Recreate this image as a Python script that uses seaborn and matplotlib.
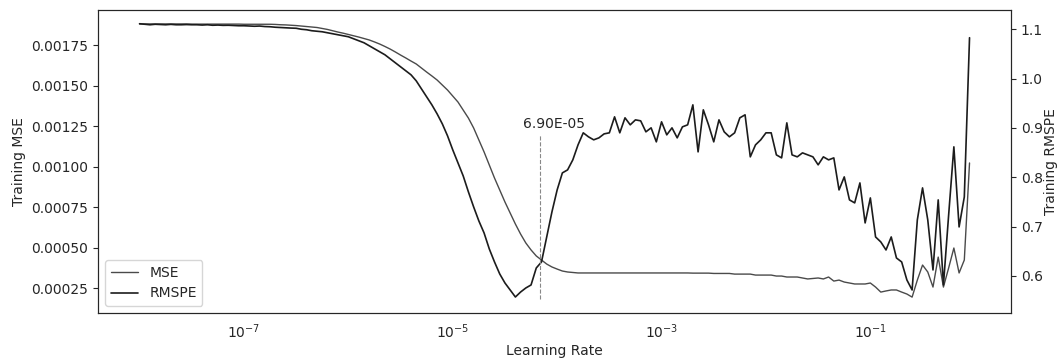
import matplotlib
matplotlib.use("Agg")
import matplotlib.pyplot as plt
from matplotlib.ticker import NullLocator
import seaborn as sns

# learning-rate sweep: one epoch per step, lr = 1e-8 * 10**(epoch/20)
epochs = list(range(160))
lr = [1e-8 * 10 ** (e / 20) for e in epochs]

mse = [
    0.001880, 0.001880, 0.001880, 0.001880, 0.001880, 0.001880, 0.001880, 0.001880, 0.001880, 0.001880,
    0.001879, 0.001879, 0.001879, 0.001879, 0.001879, 0.001879, 0.001879, 0.001879, 0.001879, 0.001879,
    0.001878, 0.001878, 0.001878, 0.001878, 0.001878, 0.001878, 0.001877, 0.001875, 0.001874, 0.001872,
    0.001870, 0.001867, 0.001864, 0.001861, 0.001858, 0.001852, 0.001846, 0.001838, 0.001830, 0.001823,
    0.001815, 0.001807, 0.001799, 0.001790, 0.001781, 0.001769, 0.001756, 0.001741, 0.001725, 0.001707,
    0.001688, 0.001670, 0.001651, 0.001633, 0.001608, 0.001583, 0.001559, 0.001534, 0.001503, 0.001472,
    0.001435, 0.001398, 0.001349, 0.001299, 0.001238, 0.001164, 0.001090, 0.001009, 0.000929, 0.000855,
    0.000781, 0.000713, 0.000645, 0.000583, 0.000528, 0.000485, 0.000448, 0.000423, 0.000398, 0.000380,
    0.000367, 0.000355, 0.000349, 0.000346, 0.000343, 0.000343, 0.000343, 0.000343, 0.000343, 0.000343,
    0.000343, 0.000343, 0.000343, 0.000343, 0.000343, 0.000343, 0.000343, 0.000343, 0.000343, 0.000343,
    0.000343, 0.000343, 0.000343, 0.000343, 0.000343, 0.000343, 0.000342, 0.000342, 0.000342, 0.000342,
    0.000340, 0.000340, 0.000340, 0.000340, 0.000336, 0.000336, 0.000336, 0.000336, 0.000330, 0.000330,
    0.000330, 0.000330, 0.000324, 0.000324, 0.000318, 0.000318, 0.000318, 0.000312, 0.000306, 0.000309,
    0.000312, 0.000306, 0.000318, 0.000293, 0.000299, 0.000287, 0.000281, 0.000275, 0.000275, 0.000275,
    0.000281, 0.000256, 0.000225, 0.000232, 0.000238, 0.000238, 0.000225, 0.000213, 0.000194, 0.000299,
    0.000392, 0.000349, 0.000256, 0.000441, 0.000256, 0.000374, 0.000497, 0.000343, 0.000423, 0.001022,
]

rmspe = [
    1.1112, 1.1101, 1.1091, 1.1101, 1.1095, 1.1091, 1.1099, 1.1091, 1.1091, 1.1095,
    1.1091, 1.1091, 1.1085, 1.1091, 1.1081, 1.1085, 1.1079, 1.1081, 1.1075, 1.1071,
    1.1071, 1.1067, 1.1061, 1.1065, 1.1055, 1.1051, 1.1041, 1.1035, 1.1030, 1.1024,
    1.1020, 1.1000, 1.0990, 1.0970, 1.0960, 1.0949, 1.0929, 1.0909, 1.0888, 1.0868,
    1.0848, 1.0807, 1.0767, 1.0726, 1.0665, 1.0605, 1.0544, 1.0483, 1.0402, 1.0320,
    1.0239, 1.0158, 1.0077, 0.9955, 0.9793, 0.9631, 0.9468, 0.9286, 0.9083, 0.8840,
    0.8556, 0.8292, 0.8028, 0.7704, 0.7400, 0.7116, 0.6872, 0.6548, 0.6284, 0.6041,
    0.5858, 0.5716, 0.5574, 0.5675, 0.5757, 0.5818, 0.6162, 0.6284, 0.6791, 0.7298,
    0.7744, 0.8089, 0.8150, 0.8353, 0.8657, 0.8901, 0.8820, 0.8759, 0.8799, 0.8880,
    0.8901, 0.9225, 0.8901, 0.9205, 0.9063, 0.9164, 0.9144, 0.8921, 0.9002, 0.8718,
    0.9124, 0.8860, 0.9002, 0.8799, 0.9022, 0.9063, 0.9468, 0.8515, 0.9367, 0.9063,
    0.8718, 0.9164, 0.8921, 0.8820, 0.8901, 0.9205, 0.9266, 0.8414, 0.8657, 0.8759,
    0.8901, 0.8901, 0.8454, 0.8393, 0.9103, 0.8454, 0.8414, 0.8495, 0.8454, 0.8414,
    0.8252, 0.8414, 0.8353, 0.8393, 0.7744, 0.8008, 0.7542, 0.7481, 0.7886, 0.7075,
    0.7582, 0.6791, 0.6690, 0.6527, 0.6791, 0.6365, 0.6284, 0.5919, 0.5716, 0.7136,
    0.7785, 0.7136, 0.6122, 0.7542, 0.5818, 0.7237, 0.8617, 0.6994, 0.7602, 1.0828,
]

x_ticks = [1e-7, 1e-5, 1e-3, 1e-1]

best_lr = 6.9e-5
marker_low = 0.553
marker_high = 0.886

sns.set_style("ticks")
plt.rcParams["font.family"] = ["DejaVu Sans"]

fig, ax1 = plt.subplots(figsize=(10.6, 3.6), dpi=100)
fig.subplots_adjust(left=0.0925, right=0.9538, bottom=0.1306, top=0.9722)

sns.lineplot(x=lr, y=mse, ax=ax1, color="#4a4a4a", linewidth=1.0, label="MSE", legend=False)
ax1.set_xscale("log")
ax1.set_xticks(x_ticks)
ax1.xaxis.set_minor_locator(NullLocator())
ax1.tick_params(axis="x", which="both", length=0, pad=7)
ax1.set_ylim(0.000096, 0.001966)
ax1.set_xlabel("Learning Rate", labelpad=2)
ax1.set_ylabel("Training MSE")

ax2 = ax1.twinx()
sns.lineplot(x=lr, y=rmspe, ax=ax2, color="#1c1c1c", linewidth=1.2, label="RMSPE", legend=False)
ax2.set_ylim(0.525, 1.139)
ax2.set_ylabel("Training RMSPE", labelpad=1)

ax2.vlines(best_lr, marker_low, marker_high, colors="#888888", linestyles="--", linewidth=0.8)
ax2.annotate(f"{best_lr:.2E}", xy=(best_lr, marker_high), xytext=(10, 3),
             textcoords="offset points", ha="center", va="bottom", fontsize=10)

h1, l1 = ax1.get_legend_handles_labels()
h2, l2 = ax2.get_legend_handles_labels()
ax1.legend(h1 + h2, l1 + l2, loc="lower left")

plt.savefig("out.png", dpi=100)
plt.close()
